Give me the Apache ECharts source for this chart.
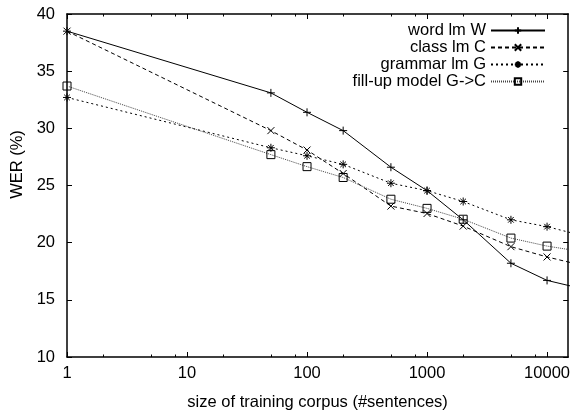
<!DOCTYPE html>
<html>
<head>
<meta charset="utf-8">
<script src="https://cdn.jsdelivr.net/npm/echarts@6/dist/echarts.min.js"></script>
<style>
  html, body { margin: 0; padding: 0; background: #fff; }
  #chart { width: 573px; height: 416px; }
</style>
</head>
<body>
<div id="chart"></div>
<script>
// corpus sizes (#sentences); last point lies past the right border and is clipped
var sizes = [1, 50, 100, 200, 500, 1000, 2000, 5000, 10000, 20000];
var wordLm = [38.5, 33.1, 31.4, 29.8, 26.6, 24.55, 22.0, 18.2, 16.7, 15.95];
var classLm = [38.5, 29.8, 28.1, 26.05, 23.2, 22.55, 21.45, 19.65, 18.75, 18.0];
var grammarLm = [32.7, 28.3, 27.6, 26.85, 25.2, 24.55, 23.6, 22.0, 21.4, 20.6];
var fillUp = [33.7, 27.7, 26.65, 25.7, 23.8, 23.0, 22.05, 20.4, 19.7, 19.2];

var xMajor = [1, 10, 100, 1000, 10000];
var xMinor = [2, 5, 8, 20, 50, 80, 200, 500, 800, 2000, 5000, 8000];

var font = "'Liberation Sans', Arial, sans-serif";
var fs = 16.5;

function pairs(ys) {
  return sizes.map(function (x, i) { return [x, ys[i]]; });
}

var chart = echarts.init(document.getElementById('chart'));

function xAx(pos, minor, labels) {
  return {
    type: 'log', logBase: 10, min: 1, max: 15000, position: pos, gridIndex: 0,
    axisLine: { show: !minor, lineStyle: { color: '#000', width: 1.5 } },
    axisTick: { show: true, inside: true, length: minor ? 2.5 : 5,
      customValues: minor ? xMinor : xMajor, lineStyle: { color: '#000', width: 1 } },
    axisLabel: labels ? { show: true, customValues: xMajor, color: '#000', fontSize: fs,
      fontFamily: font, margin: 8, formatter: function (v) { return String(v); } } : { show: false },
    splitLine: { show: false },
    name: labels ? 'size of training corpus (#sentences)' : '',
    nameLocation: 'middle', nameGap: 37,
    nameTextStyle: { color: '#000', fontSize: fs, fontFamily: font }
  };
}

function yAx(pos, labels) {
  return {
    type: 'value', min: 10, max: 40, interval: 5, position: pos,
    axisLine: { show: true, lineStyle: { color: '#000', width: 1.5 } },
    axisTick: { show: true, inside: true, length: 5, lineStyle: { color: '#000' } },
    axisLabel: { show: labels, color: '#000', fontSize: fs, fontFamily: font, margin: 12 },
    splitLine: { show: false },
    name: labels ? 'WER (%)' : '',
    nameLocation: 'middle', nameGap: 41.5,
    nameTextStyle: { color: '#000', fontSize: fs, fontFamily: font, padding: [0, 0, 0, 42] }
  };
}

function line(name, ys, symbol, size, dash, color) {
  return {
    name: name, type: 'line', data: pairs(ys), clip: true,
    symbol: symbol, symbolSize: size, showAllSymbol: true,
    lineStyle: { color: color, width: 1, type: dash },
    itemStyle: { color: 'none', borderColor: '#000', borderWidth: 1 },
    emphasis: { disabled: true }
  };
}

chart.setOption({
  animation: false,
  backgroundColor: '#fff',
  textStyle: { fontFamily: font },
  grid: { left: 67, right: 3, top: 14, bottom: 59 },
  legend: {
    orient: 'vertical', right: 22, top: 17, align: 'right',
    itemWidth: 54, itemHeight: 8, itemGap: 0,
    textStyle: { color: '#000', fontSize: fs, lineHeight: 16.5, fontFamily: font },
    data: ['word lm W', 'class lm C', 'grammar lm G', 'fill-up model G->C']
  },
  xAxis: [xAx('bottom', false, true), xAx('bottom', true, false), xAx('top', false, false), xAx('top', true, false)],
  yAxis: [yAx('left', true), yAx('right', false)],
  series: [
    line('word lm W', wordLm, 'path://M0,5H10M5,0V10', 8, 'solid', '#000'),
    line('class lm C', classLm, 'path://M0,0L10,10M10,0L0,10', 7, [4, 3], '#000'),
    line('grammar lm G', grammarLm, 'path://M0,5H10M5,0V10M1.5,1.5L8.5,8.5M8.5,1.5L1.5,8.5', 8, [2, 3], '#000'),
    line('fill-up model G->C', fillUp, 'rect', 8, [1, 1], '#444')
  ]
});
</script>
</body>
</html>
